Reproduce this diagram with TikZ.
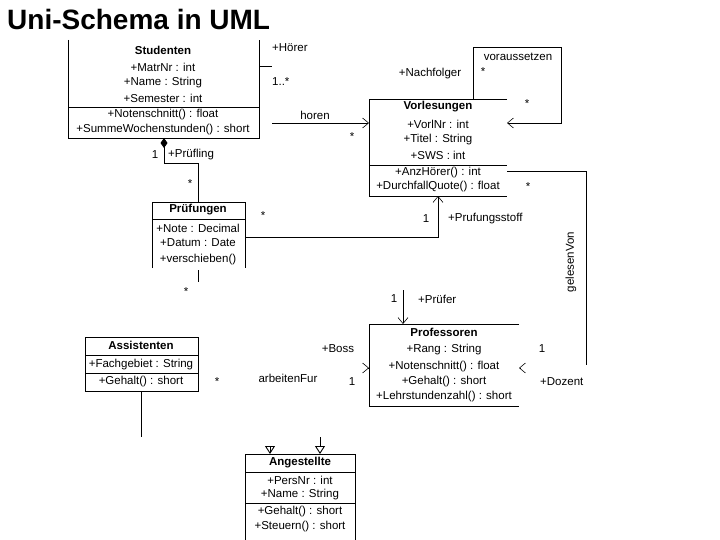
\documentclass[tikz,border=0pt]{standalone}
\usepackage{fontspec}
\setmainfont{Liberation Sans}
\usetikzlibrary{arrows.meta}
\begin{document}
\begin{tikzpicture}[x=1pt,y=-1pt,
  t/.style={font=\fontsize{11.5}{13}\selectfont,inner sep=0pt},
  tb/.style={t,font=\fontsize{11.5}{13}\selectfont\bfseries},
  ln/.style={line width=0.9pt},
  oa/.style={ln,-{Straight Barb[length=6pt,width=10pt,line width=0.6pt]}},
  ga/.style={ln,-{Triangle[open,length=8pt,width=10pt]}}]
\useasboundingbox (0,0) rectangle (720,540);
\node[anchor=west,inner sep=0pt,font=\fontsize{28}{30}\selectfont\bfseries] (title) at (7,19) {Uni-Schema in UML};
% Studenten
\coordinate (sTL) at (68,40); \coordinate (sTR) at (259,40);
\draw[ln] (sTL) -- (68,138) -- (259,138) -- (sTR);
\draw[ln] (68,107) -- (259,107);
\node[tb] (s0) at (163,50) {Studenten};
\node[t] (s1) at (163,67) {+MatrNr : int};
\node[t] (s2) at (163,83) {+Name : String};
\node[t] (s3) at (163,98) {+Semester : int};
\node[t] (s4) at (163,115) {+Notenschnitt() : float};
\node[t] (s5) at (163,130) {+SummeWochenstunden() : short};
\draw[ln] (259,66) -- (272,66);
\node[t,anchor=west] (hoerer) at (272,48) {+Hörer};
\node[t,anchor=west] (e1) at (272,82) {1..*};
% Vorlesungen
\draw[ln] (507,99) -- (369,99) -- (369,196) -- (507,196);
\draw[ln] (369,165) -- (507,165);
\node[tb] (v0) at (438,107) {Vorlesungen};
\node[t] (v1) at (438,124) {+VorlNr : int};
\node[t] (v2) at (438,140) {+Titel : String};
\node[t] (v3) at (438,155) {+SWS : int};
\node[t] (v4) at (438,173) {+AnzHörer() : int};
\node[t] (v5) at (438,187) {+DurchfallQuote() : float};
\coordinate (hA) at (272,123); \coordinate (hB) at (369,123);
\draw[oa] (hA) -- (hB);
\node[t] (horen) at (315,115) {horen};
\node[t] (hs) at (352,137) {*};
% voraussetzen
\coordinate (vA) at (473,99); \coordinate (vB) at (507,123);
\draw[oa] (vA) -- (473,47) -- (561,47) -- (561,123) -- (vB);
\node[t] (vor) at (518,57) {voraussetzen};
\node[t] (vs1) at (483,72) {*};
\node[t] (nach) at (430,74) {+Nachfolger};
\node[t] (vs2) at (527,104) {*};
\node[t] (vs3) at (528,187) {*};
% Pruefungen
\draw[ln] (152,268) -- (152,202) -- (245,202) -- (245,268);
\draw[ln] (152,219) -- (245,219);
\node[tb] (p0) at (198,210) {Prüfungen};
\node[t] (p1) at (198,228) {+Note : Decimal};
\node[t] (p2) at (198,243) {+Datum : Date};
\node[t] (p3) at (198,260) {+verschieben()};
\draw[ln] (198,270) -- (198,282);
\node[t] (ps) at (186,292) {*};
% composition
\coordinate (dA) at (164,138);
\draw[ln,{Diamond[length=10pt,width=7pt]}-] (dA) -- (164,163) -- (198,163) -- (198,202);
\node[t] (c1) at (155,155) {1};
\node[t,anchor=west] (pruefling) at (168,155) {+Prüfling};
\node[t] (cs) at (190,184) {*};
% Pruefungsstoff
\draw[oa] (245,237) -- (438,237) -- (438,196);
\node[t] (ps1) at (426,219) {1};
\node[t,anchor=west] (pst) at (448,219) {+Prufungsstoff};
\node[t] (ps2) at (263,216) {*};
% gelesenVon
\draw[ln] (507,171) -- (586,171) -- (586,365);
\node[t,rotate=90] (gel) at (571,262) {gelesenVon};
\node[t,anchor=west] (doz) at (540,382) {+Dozent};
\node[t] (g1) at (542,349) {1};
\coordinate (gA) at (520,368); \coordinate (gB) at (519,368);
\draw[oa] (gA) -- (gB);
% Professoren
\draw[ln] (519,324) -- (369,324) -- (369,406) -- (519,406);
\node[tb] (pr0) at (444,332) {Professoren};
\node[t] (pr1) at (444,350) {+Rang : String};
\node[t] (pr2) at (444,367) {+Notenschnitt() : float};
\node[t] (pr3) at (444,382) {+Gehalt() : short};
\node[t] (pr4) at (444,397) {+Lehrstundenzahl() : short};
\draw[oa] (403,290) -- (403,324);
\node[t] (pf1) at (394,299) {1};
\node[t,anchor=west] (pf) at (418,299) {+Prüfer};
% Assistenten
\draw[ln] (85,337) rectangle (198,391);
\draw[ln] (85,355) -- (198,355);
\draw[ln] (85,373) -- (198,373);
\node[tb] (a0) at (141,345) {Assistenten};
\node[t] (a1) at (141,365) {+Fachgebiet : String};
\node[t] (a2) at (141,382) {+Gehalt() : short};
\draw[ln] (141,391) -- (141,437);
% arbeitenFur
\coordinate (bA) at (368,368); \coordinate (bB) at (369,368);
\draw[oa] (bA) -- (bB);
\node[t] (boss) at (338,349) {+Boss};
\node[t] (arb) at (288,378) {arbeitenFur};
\node[t] (b1) at (352,382) {1};
\node[t] (bs) at (217,382) {*};
% Angestellte
\draw[ln] (245,540) -- (245,454) -- (355,454) -- (355,540);
\draw[ln] (245,472) -- (355,472);
\draw[ln] (245,503) -- (355,503);
\node[tb] (g0) at (300,463) {Angestellte};
\node[t] (g1a) at (300,480) {+PersNr : int};
\node[t] (g2) at (300,495) {+Name : String};
\node[t] (g3) at (300,512) {+Gehalt() : short};
\node[t] (g4) at (300,527) {+Steuern() : short};
\coordinate (tA) at (270,445); \coordinate (tB) at (270,454);
\draw[ga,shorten <=8pt] (tA) -- (tB);
\draw[ga] (320,437) -- (320,454);
\end{tikzpicture}
\end{document}
